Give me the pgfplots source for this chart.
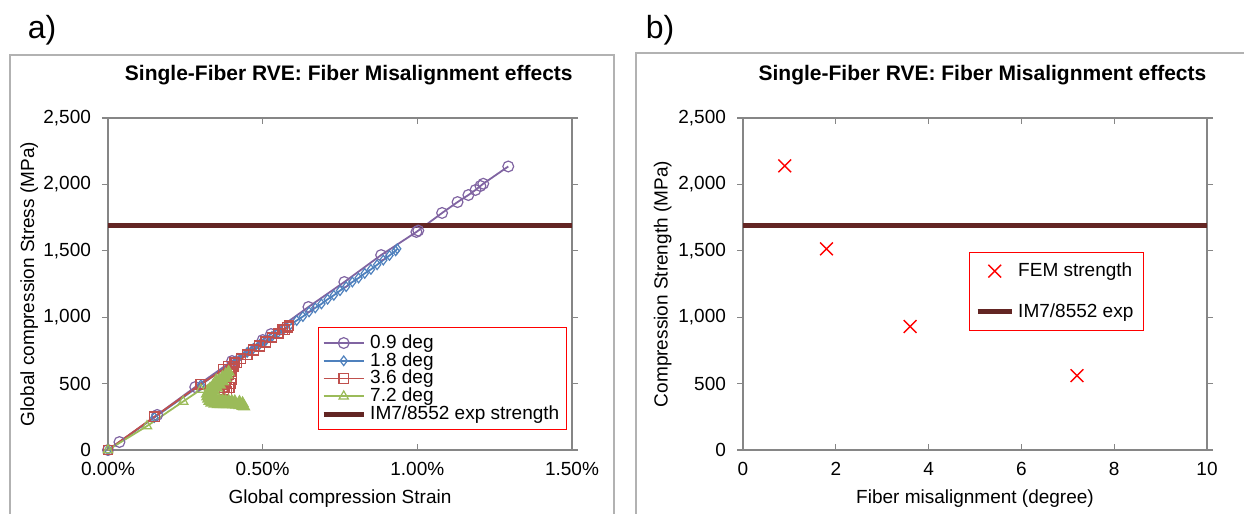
\documentclass[border=0pt]{standalone}
\usepackage{fontspec}
\setmainfont{Liberation Sans}
\usepackage{pgfplots}
\pgfplotsset{compat=1.18}
\definecolor{xpurple}{HTML}{8064A2}
\definecolor{xblue}{HTML}{4F81BD}
\definecolor{xred}{HTML}{C0504D}
\definecolor{xgreen}{HTML}{9BBB59}
\definecolor{maroon}{HTML}{632523}
\definecolor{axgray}{HTML}{868686}
\newcommand{\fs}{\fontsize{9.5}{10}\selectfont}

\pgfplotsset{
  panel/.style={
    scale only axis, width=232pt, height=166pt,
    axis line style={axgray, line width=0.6pt},
    tick style={axgray, line width=0.6pt},
    xtick align=inside, ytick align=outside,
    major tick length=3pt,
    tick label style={font=\fs},
    yticklabel style={xshift=-2pt},
    xticklabel style={yshift=-2.5pt},
    label style={font=\fs},
    /pgf/number format/assume math mode=true,
    /pgf/number format/1000 sep={,},
    ymin=0, ymax=2500, ytick={0,500,...,2500},
    ylabel style={at={(axis description cs:-0.17,0.5)}, anchor=center},
    xlabel style={at={(axis description cs:0.5,-0.145)}, anchor=center},
    clip=false,
  },
}

\begin{document}
\begin{tikzpicture}[x=1pt,y=1pt]
\useasboundingbox (0,0) rectangle (622,257);
% panel frames
\draw[gray!60, line width=0.6pt] (5,-2) -- (5,229.5) -- (307,229.5) -- (307,-2);
\draw[gray!60, line width=0.6pt] (318,-2) -- (318,230.5) -- (625,230.5);
\node[font=\fontsize{16}{18}\selectfont] at (21,242) {a)};
\node[font=\fontsize{16}{18}\selectfont] at (330,242) {b)};

\begin{axis}[panel, at={(54pt,32pt)}, anchor=south west,
  xmin=0, xmax=1.5, xtick={0,0.5,1,1.5},
  xticklabel={\pgfmathprintnumber[fixed,fixed zerofill,precision=2]{\tick}\%},
  xlabel={Global compression Strain},
  ylabel={Global compression Stress (MPa)},
  legend style={at={(0.989,0.06)}, anchor=south east, draw=red, line width=0.6pt,
    font=\fs, row sep=-3.5pt, inner sep=1.5pt, cells={anchor=west}},
  legend image code/.code={\draw[#1] (0pt,0pt) -- (20pt,0pt); \draw[#1, only marks] plot coordinates {(10pt,0pt)};},
]
\addplot[xpurple, line width=0.9pt, mark=o, mark size=2.7pt, mark options={line width=0.6pt}] coordinates {
(0,0)(0.037,60)(0.159,264)(0.282,474)(0.401,670)(0.500,828)(0.527,873)(0.648,1077)
(0.764,1265)(0.883,1468)(0.997,1642)(1.003,1652)(1.080,1785)(1.130,1867)(1.165,1920)
(1.188,1958)(1.204,1988)(1.213,2005)(1.294,2135)};
\addlegendentry{0.9 deg}
\addplot[xblue, line width=0.9pt, mark=diamond, mark size=2.4pt, mark options={line width=0.6pt}] coordinates {
(0,0)(0.15,245)(0.30,490)(0.42,690)(0.45,735)(0.47,765)(0.49,795)(0.51,825)(0.53,855)
(0.55,885)(0.57,915)(0.59,945)(0.61,975)(0.63,1005)(0.65,1040)(0.67,1070)(0.69,1100)
(0.71,1135)(0.73,1165)(0.75,1200)(0.77,1230)(0.79,1265)(0.81,1295)(0.83,1330)(0.85,1360)
(0.87,1395)(0.89,1430)(0.91,1465)(0.93,1500)(0.935,1515)};
\addlegendentry{1.8 deg}
\addplot[xred, line width=0.9pt, mark=square, mark size=2.4pt, mark options={line width=0.6pt}] coordinates {
(0,0)(0.15,250)(0.30,495)(0.372,605)(0.39,630)(0.41,660)(0.43,690)(0.45,720)(0.47,755)
(0.49,785)(0.51,815)(0.53,850)(0.55,880)(0.565,905)(0.58,925)(0.585,935)
(0.57,905)(0.55,875)(0.53,845)(0.51,810)(0.49,780)(0.47,750)(0.45,715)(0.43,685)
(0.415,655)(0.405,630)(0.40,610)(0.395,590)(0.39,570)(0.385,550)(0.382,530)(0.379,510)
(0.377,490)(0.376,470)(0.375,450)(0.375,430)(0.385,440)(0.392,470)(0.396,500)(0.40,530)};
\addlegendentry{3.6 deg}
\addplot[xgreen, line width=0.9pt, mark=triangle, mark size=2.7pt, mark options={line width=0.6pt}] coordinates {
(0,0)(0.126,180)(0.243,365)(0.30,455)(0.35,530)(0.39,588)};
\addlegendentry{7.2 deg}
\addplot[maroon, line width=2.5pt] coordinates {(0,1690)(1.5,1690)};
\addlegendentry{IM7/8552 exp strength}
% post-peak snap-back of the 7.2 deg run (dense points)
\addplot[xgreen, line width=0.9pt, mark=triangle*, mark size=2.8pt, forget plot] coordinates {
(0.39,588)(0.38,568)(0.37,548)(0.36,528)(0.35,508)(0.34,486)(0.33,462)(0.325,442)
(0.32,422)(0.321,402)(0.324,384)(0.328,368)(0.334,354)(0.344,346)(0.355,344)(0.365,344)
(0.375,344)(0.385,344)(0.395,343)(0.405,342)(0.415,340)(0.425,336)(0.435,330)(0.44,326)
(0.435,352)(0.425,362)(0.41,366)(0.40,368)(0.39,370)(0.38,372)(0.37,374)(0.36,376)
(0.35,380)(0.342,392)(0.338,408)(0.338,425)(0.343,445)(0.352,468)(0.362,490)(0.372,515)
(0.38,540)(0.385,565)};
\node[font=\bfseries\fontsize{10.5}{12}\selectfont] at (axis description cs:0.519,1.13) {Single-Fiber RVE: Fiber Misalignment effects};
\end{axis}

\begin{axis}[panel, at={(371.5pt,32pt)}, anchor=south west,
  xmin=0, xmax=10, xtick={0,2,...,10},
  xlabel={Fiber misalignment (degree)},
  ylabel={Compression Strength (MPa)},
  ylabel style={at={(axis description cs:-0.173,0.5)}},
  legend style={at={(0.486,0.596)}, anchor=north west, draw=red, line width=0.6pt,
    font=\fs, row sep=8pt, inner sep=3pt, cells={anchor=west}},
]
\addplot[only marks, red, mark=x, mark size=4.5pt, mark options={line width=0.7pt}] coordinates {
(0.9,2140)(1.8,1515)(3.6,930)(7.2,560)};
\addlegendentry{FEM strength}
\addplot[maroon, line width=2.5pt] coordinates {(0,1690)(10,1690)};
\addlegendentry{IM7/8552 exp}
\node[font=\bfseries\fontsize{10.5}{12}\selectfont] at (axis description cs:0.516,1.13) {Single-Fiber RVE: Fiber Misalignment effects};
\end{axis}
\end{tikzpicture}
\end{document}
